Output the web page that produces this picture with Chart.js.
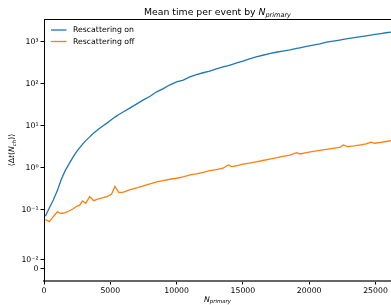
<!DOCTYPE html>
<html>
<head>
<meta charset="utf-8">
<script src="https://cdn.jsdelivr.net/npm/chart.js@4"></script>
<style>
  html, body { margin: 0; padding: 0; background: #fff; }
  canvas { display: block; }
</style>
</head>
<body>
<canvas id="chart" width="391" height="305"></canvas>
<script>
const nPrimary = [100, 400, 700, 1000, 1300, 1600, 1900, 2200, 2500, 2700, 2900, 3150, 3450, 3750,
  4100, 4400, 4750, 5100, 5350, 5650, 6000, 6500, 7000, 7500, 8000, 8500, 9000, 9500, 10000,
  10500, 11000, 11500, 12000, 12500, 13000, 13500, 13900, 14150, 14600, 15000, 15500, 16000,
  16500, 17000, 17500, 18000, 18550, 19050, 19300, 19800, 20300, 20800, 21300, 21800, 22300,
  22570, 22900, 23400, 23900, 24300, 24660, 24950, 25400, 25800, 26200];

const rescatteringOn = [0.07, 0.11, 0.17, 0.28, 0.52, 0.85, 1.25, 1.8, 2.5, 3.0, 3.6, 4.4, 5.4, 6.7,
  8.2, 9.7, 11.5, 14, 16, 18.5, 21.5, 26.5, 33, 41, 50, 64, 76, 94, 110,
  122, 145, 165, 182, 200, 225, 250, 270, 285, 315, 345, 390, 435,
  475, 520, 560, 595, 640, 690, 715, 770, 830, 890, 970, 1030, 1095,
  1130, 1180, 1250, 1320, 1380, 1440, 1490, 1560, 1630, 1700];

const rescatteringOff = [0.058, 0.052, 0.068, 0.089, 0.081, 0.085, 0.093, 0.105, 0.122, 0.128, 0.161, 0.142, 0.204, 0.164,
  0.18, 0.19, 0.205, 0.236, 0.36, 0.255, 0.262, 0.3, 0.33, 0.37, 0.41, 0.46, 0.49, 0.53, 0.56,
  0.6, 0.67, 0.71, 0.77, 0.85, 0.9, 0.97, 1.16, 1.06, 1.12, 1.21, 1.28, 1.38,
  1.48, 1.6, 1.7, 1.85, 2.0, 2.27, 2.12, 2.28, 2.45, 2.58, 2.72, 2.89, 3.05,
  3.47, 3.16, 3.3, 3.5, 3.67, 4.03, 3.81, 4.0, 4.2, 4.4];

const xTicks = [0, 5000, 10000, 15000, 20000, 25000];
const yTicks = [0, 0.01, 0.1, 1, 10, 100, 1000];
const yTickLabels = ['0', '10\u207B\u00B2', '10\u207B\u00B9', '10\u2070', '10\u00B9', '10\u00B2', '10\u00B3'];

const FONT = "'DejaVu Sans', sans-serif";
const BLUE = '#1f77b4';
const ORANGE = '#ff7f0e';

// symlog transform like matplotlib (linthresh 0.05, linscale 1)
const LINTHRESH = 0.05;
const LINSCALE = 1 / (1 - 1 / 10);
function symlog(v) {
  const a = Math.abs(v);
  if (a <= LINTHRESH) return v / LINTHRESH * LINSCALE;
  return Math.sign(v) * (LINSCALE + Math.log10(a / LINTHRESH));
}
function symexp(t) {
  const a = Math.abs(t);
  if (a <= LINSCALE) return t / LINSCALE * LINTHRESH;
  return Math.sign(t) * LINTHRESH * Math.pow(10, a - LINSCALE);
}

class SymlogScale extends Chart.Scale {
  determineDataLimits() {
    const { min, max } = this.getMinMax(true);
    this.min = this.options.min ?? min;
    this.max = this.options.max ?? max;
  }
  buildTicks() {
    return yTicks.map(v => ({ value: v }));
  }
  configure() {
    super.configure();
    this._startValue = symlog(this.min);
    this._valueRange = symlog(this.max) - symlog(this.min);
  }
  getLabelForValue(v) { return String(v); }
  getPixelForValue(v) {
    return this.getPixelForDecimal((symlog(v) - this._startValue) / this._valueRange);
  }
  getValueForPixel(p) {
    return symexp(this.getDecimalForPixel(p) * this._valueRange + this._startValue);
  }
}
SymlogScale.id = 'symlog';
SymlogScale.defaults = {};
Chart.register(SymlogScale);

// draws a run of [text, italic, sub] pieces starting at x
function drawPieces(ctx, pieces, x, y, size) {
  pieces.forEach(([txt, italic, sub]) => {
    const s = sub ? size * 0.7 : size;
    ctx.font = (italic ? 'italic ' : '') + s + 'px ' + FONT;
    ctx.fillText(txt, x, sub ? y + size * 0.25 : y);
    x += ctx.measureText(txt).width;
  });
}
function piecesWidth(ctx, pieces, size) {
  let w = 0;
  pieces.forEach(([txt, italic, sub]) => {
    const s = sub ? size * 0.7 : size;
    ctx.font = (italic ? 'italic ' : '') + s + 'px ' + FONT;
    w += ctx.measureText(txt).width;
  });
  return w;
}

const decor = {
  id: 'decor',
  afterDraw(chart) {
    const ctx = chart.ctx;
    const area = chart.chartArea;
    ctx.save();
    // top spine
    ctx.strokeStyle = '#000';
    ctx.lineWidth = 1;
    ctx.beginPath();
    ctx.moveTo(area.left, area.top + 0.5);
    ctx.lineTo(area.right, area.top + 0.5);
    ctx.stroke();

    ctx.fillStyle = '#000';
    ctx.textBaseline = 'alphabetic';
    ctx.textAlign = 'left';
    const cx = (area.left + area.right) / 2;

    // title
    const title = [['Mean time per event by ', false, false], ['N', true, false], ['primary', true, true]];
    const tw = piecesWidth(ctx, title, 9.3);
    drawPieces(ctx, title, cx - tw / 2, 14.5, 9.3);

    // x label
    const xl = [['N', true, false], ['primary', true, true]];
    const xw = piecesWidth(ctx, xl, 7.75);
    drawPieces(ctx, xl, cx - xw / 2, 301.5, 7.75);

    // y label
    const yl = [['\u27E8\u0394', false, false], ['t', true, false], ['(', false, false], ['N', true, false], ['ch', true, true], [')\u27E9', false, false]];
    const yw = piecesWidth(ctx, yl, 7.75);
    ctx.save();
    ctx.translate(14, (area.top + area.bottom) / 2);
    ctx.rotate(-Math.PI / 2);
    drawPieces(ctx, yl, -yw / 2, 0, 7.75);
    ctx.restore();

    // legend
    const items = [['Rescattering on', BLUE, 30], ['Rescattering off', ORANGE, 41.5]];
    items.forEach(([label, color, y]) => {
      ctx.strokeStyle = color;
      ctx.lineWidth = 1.3;
      ctx.beginPath();
      ctx.moveTo(51, y);
      ctx.lineTo(66.5, y);
      ctx.stroke();
      ctx.fillStyle = '#000';
      ctx.font = '7.75px ' + FONT;
      ctx.textBaseline = 'middle';
      ctx.fillText(label, 73, y);
    });
    ctx.restore();
  }
};

const ctx = document.getElementById('chart').getContext('2d');
new Chart(ctx, {
  type: 'line',
  data: {
    datasets: [{
      label: 'Rescattering on',
      data: nPrimary.map((n, i) => ({ x: n, y: rescatteringOn[i] })),
      borderColor: BLUE,
      borderWidth: 1.3,
      pointRadius: 0,
      fill: false,
      tension: 0
    }, {
      label: 'Rescattering off',
      data: nPrimary.map((n, i) => ({ x: n, y: rescatteringOff[i] })),
      borderColor: ORANGE,
      borderWidth: 1.3,
      pointRadius: 0,
      fill: false,
      tension: 0
    }]
  },
  options: {
    responsive: false,
    animation: false,
    devicePixelRatio: 1,
    layout: { padding: { top: 19, right: 0, left: 0, bottom: 0 } },
    plugins: {
      legend: { display: false },
      title: { display: false },
      tooltip: { enabled: false }
    },
    scales: {
      x: {
        type: 'linear',
        min: 0,
        max: 26170,
        afterBuildTicks: s => { s.ticks = xTicks.map(v => ({ value: v })); },
        afterFit: s => { s.height = 24; },
        grid: { drawOnChartArea: false, drawTicks: true, tickLength: 3.5, tickColor: '#000' },
        border: { color: '#666', width: 2 },
        ticks: {
          color: '#000',
          font: { family: FONT, size: 7.75 },
          padding: 2,
          maxRotation: 0,
          autoSkip: false,
          callback: v => String(v)
        }
      },
      y: {
        type: 'symlog',
        min: -0.0129,
        max: 3467,
        afterFit: s => { s.width = 44; },
        grid: { drawOnChartArea: false, drawTicks: true, tickLength: 3.5, tickColor: '#000' },
        border: { color: '#000', width: 1 },
        ticks: {
          color: '#000',
          font: { family: FONT, size: 7.75 },
          padding: 2,
          autoSkip: false,
          callback: (v, i) => yTickLabels[i]
        }
      }
    }
  },
  plugins: [decor]
});
</script>
</body>
</html>
